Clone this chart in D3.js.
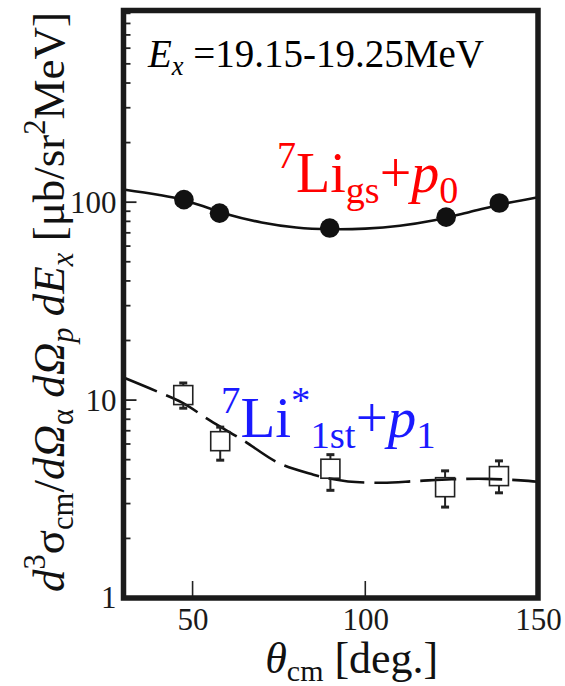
<!DOCTYPE html>
<html>
<head>
<meta charset="utf-8">
<script src="https://cdn.jsdelivr.net/npm/d3@7"></script>
<style>
  body { margin: 0; background: #fff; }
</style>
</head>
<body>
<div id="chart"></div>
<script>
// Data
var gsAngle = [47.5, 57.8, 89.7, 123.4, 138.8];
var gsValue = [103, 88, 74, 84, 99];

var stAngle = [47.3, 58.0, 89.9, 123.1, 138.7];
var stValue = [10.6, 6.2, 4.5, 3.63, 4.13];
var stLow = [9.1, 4.97, 3.5, 2.88, 3.4];
var stHigh = [12.2, 7.3, 5.3, 4.39, 4.93];

var gsFitAngle = [30, 40, 47, 55, 60, 70, 80, 90, 100, 110, 120, 130, 140, 150];
var gsFitValue = [116, 109, 103, 93, 87, 79, 74.5, 73, 73.5, 76, 81, 89, 98, 106];

var stFitAngle = [30, 40, 47, 55, 65, 75, 85, 90, 95, 105, 115, 125, 135, 145, 150];
var stFitValue = [13.0, 11.0, 9.7, 7.9, 6.2, 4.8, 4.2, 4.0, 3.88, 3.82, 3.9, 3.98, 4.0, 3.93, 3.87];

var xTicks = [50, 100, 150];
var yTicks = [1, 10, 100];

var serif = "Liberation Serif";

// Set up chart
var svgWidth = 565;
var svgHeight = 686;

var frame = { left: 123.5, right: 538, top: 10.5, bottom: 598 };

var svg = d3.select("#chart")
  .append("svg")
  .attr("width", svgWidth)
  .attr("height", svgHeight)
  .style("font-family", serif);

var x = d3.scaleLinear()
  .domain([30, 150])
  .range([frame.left, frame.right]);

var y = d3.scaleLog()
  .domain([1, 930])
  .range([frame.bottom, frame.top]);

// minor + major ticks on the left edge
var minorTicks = [];
[1, 10, 100].forEach(function(dec) {
  for (var m = 2; m <= 9; m++) {
    if (dec * m < 930) minorTicks.push(dec * m);
  }
});

svg.append("g")
  .selectAll("line")
  .data(minorTicks)
  .enter()
  .append("line")
  .attr("x1", frame.left)
  .attr("x2", frame.left + 7)
  .attr("y1", d => y(d))
  .attr("y2", d => y(d))
  .attr("stroke", "#222")
  .attr("stroke-width", 1.8);

svg.append("g")
  .selectAll("line")
  .data(yTicks)
  .enter()
  .append("line")
  .attr("x1", frame.left)
  .attr("x2", frame.left + 13)
  .attr("y1", d => y(d))
  .attr("y2", d => y(d))
  .attr("stroke", "#222")
  .attr("stroke-width", 1.8);

svg.append("g")
  .selectAll("line")
  .data(xTicks)
  .enter()
  .append("line")
  .attr("x1", d => x(d))
  .attr("x2", d => x(d))
  .attr("y1", frame.bottom)
  .attr("y2", frame.bottom - 17)
  .attr("stroke", "#222")
  .attr("stroke-width", 1.6);

// Axis labels (numbers)
var leftAxis = d3.axisLeft(y).tickValues(yTicks).tickFormat(d3.format("d")).tickSize(0).tickPadding(8);
var bottomAxis = d3.axisBottom(x).tickValues(xTicks).tickFormat(d3.format("d")).tickSize(0).tickPadding(10);

var yAxis = svg.append("g")
  .attr("transform", `translate(${frame.left}, 0)`)
  .call(leftAxis);
var xAxis = svg.append("g")
  .attr("transform", `translate(0, ${frame.bottom})`)
  .call(bottomAxis);

[yAxis, xAxis].forEach(function(ax) {
  ax.attr("font-family", null).attr("font-size", null);
  ax.select(".domain").remove();
  ax.selectAll("text")
    .style("font-family", serif)
    .style("font-size", "31px")
    .attr("fill", "#1a1a1a");
});
yAxis.selectAll("text").attr("x", -7);

// Fit curves
var line = d3.line()
  .x(d => x(d[0]))
  .y(d => y(d[1]))
  .curve(d3.curveCatmullRom.alpha(0.5));

svg.append("path")
  .datum(d3.zip(gsFitAngle, gsFitValue))
  .attr("d", line)
  .attr("fill", "none")
  .attr("stroke", "#111")
  .attr("stroke-width", 2.6);

svg.append("path")
  .datum(d3.zip(stFitAngle, stFitValue))
  .attr("d", line)
  .attr("fill", "none")
  .attr("stroke", "#111")
  .attr("stroke-width", 2.6)
  .attr("stroke-dasharray", "36,10");

// Black circles
svg.append("g")
  .selectAll("circle")
  .data(d3.zip(gsAngle, gsValue))
  .enter()
  .append("circle")
  .attr("cx", d => x(d[0]))
  .attr("cy", d => y(d[1]))
  .attr("r", 9.8)
  .attr("fill", "#111");

// Open squares with error bars
var half = 9.5;
var stData = stAngle.map(function(a, i) {
  return { a: a, v: stValue[i], lo: stLow[i], hi: stHigh[i] };
});

var errGroup = svg.append("g").attr("stroke", "#222").attr("stroke-width", 2);
stData.forEach(function(d) {
  var cx = x(d.a), cy = y(d.v);
  errGroup.append("line")
    .attr("x1", cx).attr("x2", cx)
    .attr("y1", cy - half).attr("y2", y(d.hi));
  errGroup.append("line")
    .attr("x1", cx).attr("x2", cx)
    .attr("y1", cy + half).attr("y2", y(d.lo));
  errGroup.append("line")
    .attr("x1", cx - 4).attr("x2", cx + 4)
    .attr("y1", y(d.hi)).attr("y2", y(d.hi))
    .attr("stroke-width", 3);
  errGroup.append("line")
    .attr("x1", cx - 4).attr("x2", cx + 4)
    .attr("y1", y(d.lo)).attr("y2", y(d.lo))
    .attr("stroke-width", 3);
});

svg.append("g")
  .selectAll("rect")
  .data(stData)
  .enter()
  .append("rect")
  .attr("x", d => x(d.a) - half)
  .attr("y", d => y(d.v) - half)
  .attr("width", half * 2)
  .attr("height", half * 2)
  .attr("fill", "none")
  .attr("stroke", "#222")
  .attr("stroke-width", 1.6);

// Frame
svg.append("rect")
  .attr("x", frame.left)
  .attr("y", frame.top)
  .attr("width", frame.right - frame.left)
  .attr("height", frame.bottom - frame.top)
  .attr("fill", "none")
  .attr("stroke", "#1a1a1a")
  .attr("stroke-width", 5.5);

// rich text helper: parts with sup / sub / italic
function richText(textSel, parts, size, subShift) {
  var shift = 0;
  var sub = subShift === undefined ? 0.26 : subShift;
  textSel.style("font-family", serif).style("font-size", size + "px");
  parts.forEach(function(p) {
    var target = p.pos === "sup" ? -0.42 * size : p.pos === "sub" ? sub * size : 0;
    textSel.append("tspan")
      .attr("dy", target - shift)
      .style("font-size", (p.pos ? size * 0.68 : size) + "px")
      .style("font-style", p.it ? "italic" : "normal")
      .text(p.t);
    shift = target;
  });
}

// E_x annotation
var exText = svg.append("text")
  .attr("x", 148)
  .attr("y", 67)
  .attr("fill", "#000");
richText(exText, [
  { t: "E", it: true },
  { t: "x", it: true, pos: "sub" },
  { t: "  =19.15-19.25MeV" }
], 39, 0.2);

// red label
var gsLabel = svg.append("text")
  .attr("x", 277)
  .attr("y", 192)
  .attr("fill", "#ff0000");
richText(gsLabel, [
  { t: "7", pos: "sup" },
  { t: "Li" },
  { t: "gs", pos: "sub" },
  { t: "+" },
  { t: "p", it: true },
  { t: "0", pos: "sub" }
], 56, 0.2);

// blue label
var stLabel = svg.append("text")
  .attr("x", 221)
  .attr("y", 437)
  .attr("fill", "#1a1aff");
richText(stLabel, [
  { t: "7", pos: "sup" },
  { t: "Li" },
  { t: "*", pos: "sup" },
  { t: "1st", pos: "sub" },
  { t: "+" },
  { t: "p", it: true },
  { t: "1", pos: "sub" }
], 57, 0.2);

// x axis title
var xTitle = svg.append("text")
  .attr("x", (frame.left + frame.right) / 2 + 21)
  .attr("y", 673)
  .attr("text-anchor", "middle")
  .attr("fill", "#111");
richText(xTitle, [
  { t: "θ", it: true },
  { t: "cm", pos: "sub" },
  { t: " [deg.]" }
], 44, 0.18);

// y axis title
var yTitle = svg.append("text")
  .attr("transform", "translate(64, 302) rotate(-90)")
  .attr("text-anchor", "middle")
  .attr("fill", "#111");
richText(yTitle, [
  { t: "d", it: true },
  { t: "3", pos: "sup" },
  { t: "σ" },
  { t: "cm", pos: "sub" },
  { t: "/" },
  { t: "d", it: true },
  { t: "Ω", it: true },
  { t: "α", pos: "sub" },
  { t: " " },
  { t: "d", it: true },
  { t: "Ω", it: true },
  { t: "p", it: true, pos: "sub" },
  { t: " " },
  { t: "d", it: true },
  { t: "E", it: true },
  { t: "x", it: true, pos: "sub" },
  { t: " [μb/sr" },
  { t: "2", pos: "sup" },
  { t: "MeV]" }
], 45, 0.2);
</script>
</body>
</html>
